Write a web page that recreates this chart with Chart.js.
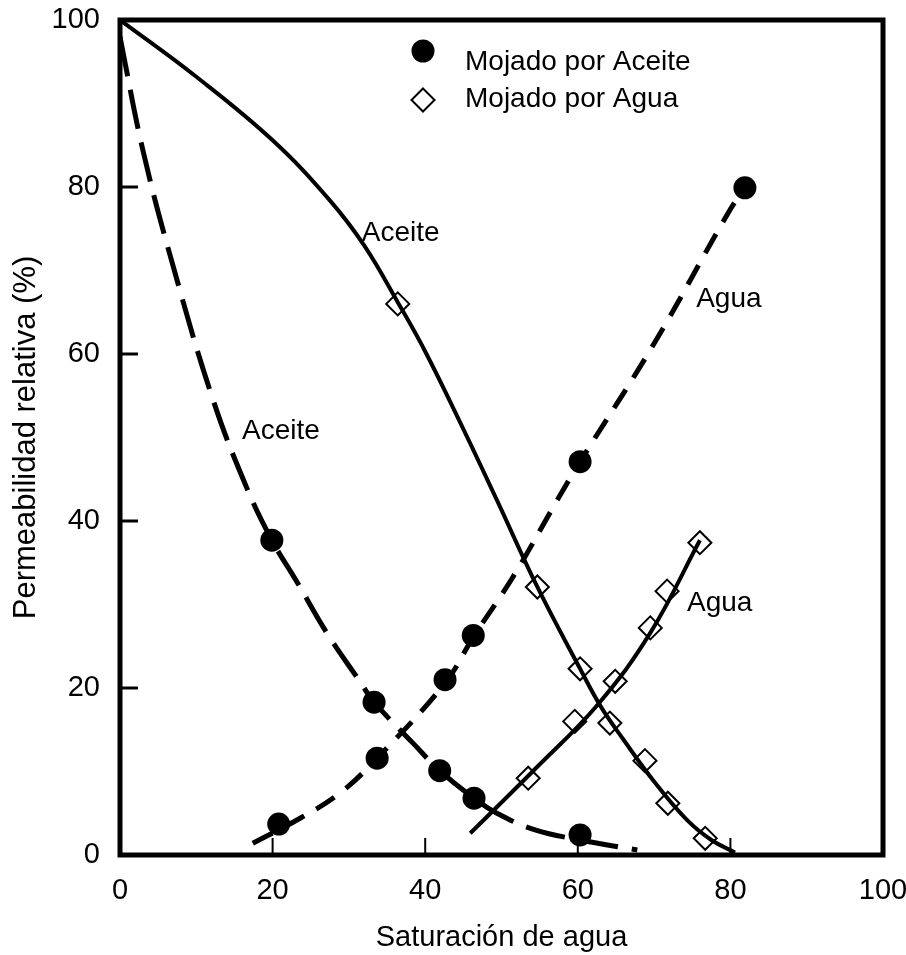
<!DOCTYPE html>
<html>
<head>
<meta charset="utf-8">
<script src="https://cdn.jsdelivr.net/npm/chart.js@4.4.1/dist/chart.umd.min.js"></script>
<style>
  body { margin: 0; background: #fff; }
  #wrap { width: 906px; height: 955px; }
</style>
</head>
<body>
<div id="wrap"><canvas id="krChart" width="906" height="955"></canvas></div>
<script>
// kr de aceite, mojado por agua (linea continua)
const kroAguaX = [0, 10, 20, 27.5, 32, 36.4, 40, 45, 49.4, 54.7, 60.3, 63, 66, 70, 74.3, 77.5, 80.6];
const kroAguaY = [100, 93.2, 85.6, 78.4, 73.0, 66.2, 60.3, 51.0, 42.5, 32.1, 22.3, 17.8, 13.8, 8.8, 4.2, 1.8, 0.3];
// kr de agua, mojado por agua (linea continua)
const krwAguaX = [45.9, 54.4, 62.6, 69.5, 76.0];
const krwAguaY = [2.6, 10.3, 18.0, 26.6, 37.7];
// kr de aceite, mojado por aceite (trazos largos)
const kroAceiteX = [0, 3.0, 7.0, 12.2, 16.6, 19.9, 23.2, 27.1, 31.5, 33.3, 38.4, 41.9, 46.4, 49.4, 54.4, 60.3, 67.8];
const kroAceiteY = [98, 84.4, 70.4, 54.5, 44.0, 37.7, 32.7, 26.6, 20.7, 18.3, 13.4, 10.1, 6.8, 5.0, 3.0, 1.8, 0.6];
// kr de agua, mojado por aceite (trazos cortos)
const krwAceiteX = [17.4, 23.6, 28.8, 33.7, 42.6, 46.3, 51.5, 57.3, 60.3, 69.9, 79.9, 81.9];
const krwAceiteY = [1.4, 4.4, 7.4, 11.6, 20.6, 26.1, 33.3, 42.5, 47.1, 61.1, 77.2, 79.9];

// puntos medidos
const ptsAceiteX = [19.9, 20.8, 33.3, 33.7, 41.9, 42.6, 46.3, 46.4, 60.3, 60.3, 81.9];
const ptsAceiteY = [37.7, 3.7, 18.3, 11.6, 10.1, 21.0, 26.3, 6.8, 47.1, 2.4, 79.9];
const ptsAguaX = [36.4, 53.5, 54.7, 59.6, 60.3, 64.2, 64.9, 68.8, 69.5, 71.7, 71.8, 76.0, 76.7];
const ptsAguaY = [66.0, 9.2, 32.1, 16.0, 22.3, 15.8, 20.8, 11.3, 27.2, 31.6, 6.2, 37.4, 2.0];

const curveLabels = ['Aceite', 'Aceite', 'Agua', 'Agua'];
const curveLabelX = [36.8, 21.1, 79.8, 78.6];
const curveLabelY = [74.5, 50.7, 66.5, 30.2];

const axisTicks = [0, 20, 40, 60, 80, 100];

const txtFont = "'Liberation Sans', Arial, sans-serif";

function pairs(xs, ys) {
    return xs.map((x, i) => ({x: x, y: ys[i]}));
}

function curve(label, xs, ys, dash, width) {
    return {
        label: label,
        data: pairs(xs, ys),
        showLine: true,
        borderColor: '#000',
        borderWidth: width,
        borderDash: dash,
        borderCapStyle: 'butt',
        pointRadius: 0,
        tension: 0.4,
        fill: false
    };
}

// marco grueso y marcas hacia dentro
const framePlugin = {
    id: 'frame',
    afterDraw(chart) {
        const {ctx, chartArea: a, scales} = chart;
        ctx.save();
        ctx.strokeStyle = '#000';
        ctx.lineWidth = 2;
        scales.x.ticks.forEach(t => {
            if (t.value <= 0 || t.value >= 100) return;
            const px = scales.x.getPixelForValue(t.value);
            ctx.beginPath();
            ctx.moveTo(px, a.bottom);
            ctx.lineTo(px, a.bottom - 17);
            ctx.stroke();
        });
        ctx.lineWidth = 3;
        scales.y.ticks.forEach(t => {
            if (t.value <= 0 || t.value >= 100) return;
            const py = scales.y.getPixelForValue(t.value);
            ctx.beginPath();
            ctx.moveTo(a.left, py);
            ctx.lineTo(a.left + 18, py);
            ctx.stroke();
        });
        ctx.lineWidth = 5;
        ctx.strokeRect(a.left, a.top, a.right - a.left, a.bottom - a.top);
        ctx.restore();
    }
};

// rotulos de las curvas y leyenda
const labelsPlugin = {
    id: 'curveLabels',
    afterDraw(chart) {
        const {ctx, scales, chartArea: a} = chart;
        ctx.save();
        ctx.fillStyle = '#000';
        ctx.font = '28px ' + txtFont;
        ctx.textAlign = 'center';
        ctx.textBaseline = 'middle';
        curveLabels.forEach((t, i) => {
            ctx.fillText(t, scales.x.getPixelForValue(curveLabelX[i]), scales.y.getPixelForValue(curveLabelY[i]));
        });

        // leyenda
        const lx = a.left + 303;
        const ly = a.top + 31;
        const ds = chart.data.datasets;
        ctx.beginPath();
        ctx.arc(lx, ly, 11.5, 0, Math.PI * 2);
        ctx.fill();
        ctx.beginPath();
        ctx.moveTo(lx, ly + 37.5);
        ctx.lineTo(lx + 11.5, ly + 49);
        ctx.lineTo(lx, ly + 60.5);
        ctx.lineTo(lx - 11.5, ly + 49);
        ctx.closePath();
        ctx.lineWidth = 2;
        ctx.strokeStyle = '#000';
        ctx.stroke();
        ctx.textAlign = 'left';
        ctx.textBaseline = 'alphabetic';
        ctx.fillText(ds[0].label, lx + 42, ly + 19);
        ctx.fillText(ds[1].label, lx + 42, ly + 56);
        ctx.restore();
    }
};

const ctx = document.getElementById('krChart').getContext('2d');

new Chart(ctx, {
    type: 'scatter',
    plugins: [framePlugin, labelsPlugin],
    data: {
        datasets: [
            {
                label: 'Mojado por Aceite',
                data: pairs(ptsAceiteX, ptsAceiteY),
                pointStyle: 'circle',
                pointRadius: 11.5,
                backgroundColor: '#000',
                borderColor: '#000',
                borderWidth: 0
            },
            {
                label: 'Mojado por Agua',
                data: pairs(ptsAguaX, ptsAguaY),
                pointStyle: 'rectRot',
                pointRadius: 11.5,
                backgroundColor: 'rgba(0,0,0,0)',
                borderColor: '#000',
                borderWidth: 2
            },
            curve('kro mojado por agua', kroAguaX, kroAguaY, [], 4),
            curve('krw mojado por agua', krwAguaX, krwAguaY, [], 4),
            curve('kro mojado por aceite', kroAceiteX, kroAceiteY, [40, 14], 5),
            curve('krw mojado por aceite', krwAceiteX, krwAceiteY, [22, 14], 5)
        ]
    },
    options: {
        responsive: false,
        animation: false,
        layout: {
            padding: {top: 20, right: 23, bottom: 0, left: 0}
        },
        plugins: {
            legend: {display: false},
            tooltip: {enabled: false}
        },
        scales: {
            x: {
                type: 'linear',
                min: 0,
                max: 100,
                afterBuildTicks: s => { s.ticks = axisTicks.map(v => ({value: v})); },
                afterFit: s => { s.height = 100; s.paddingLeft = 0; s.paddingRight = 0; },
                grid: {display: false, drawTicks: false},
                border: {display: false},
                ticks: {
                    color: '#000',
                    padding: 19,
                    maxRotation: 0,
                    font: {family: txtFont, size: 29}
                },
                title: {
                    display: true,
                    text: 'Saturación de agua',
                    color: '#000',
                    padding: {top: 0, bottom: 0},
                    font: {family: txtFont, size: 29}
                }
            },
            y: {
                type: 'linear',
                min: 0,
                max: 100,
                afterBuildTicks: s => { s.ticks = axisTicks.map(v => ({value: v})); },
                afterFit: s => { s.width = 120; s.paddingTop = 0; s.paddingBottom = 0; },
                grid: {display: false, drawTicks: false},
                border: {display: false},
                ticks: {
                    color: '#000',
                    padding: 20,
                    font: {family: txtFont, size: 29}
                },
                title: {
                    display: true,
                    text: 'Permeabilidad relativa (%)',
                    color: '#000',
                    padding: {top: 8, bottom: 0},
                    font: {family: txtFont, size: 31}
                }
            }
        }
    }
});
</script>
</body>
</html>
